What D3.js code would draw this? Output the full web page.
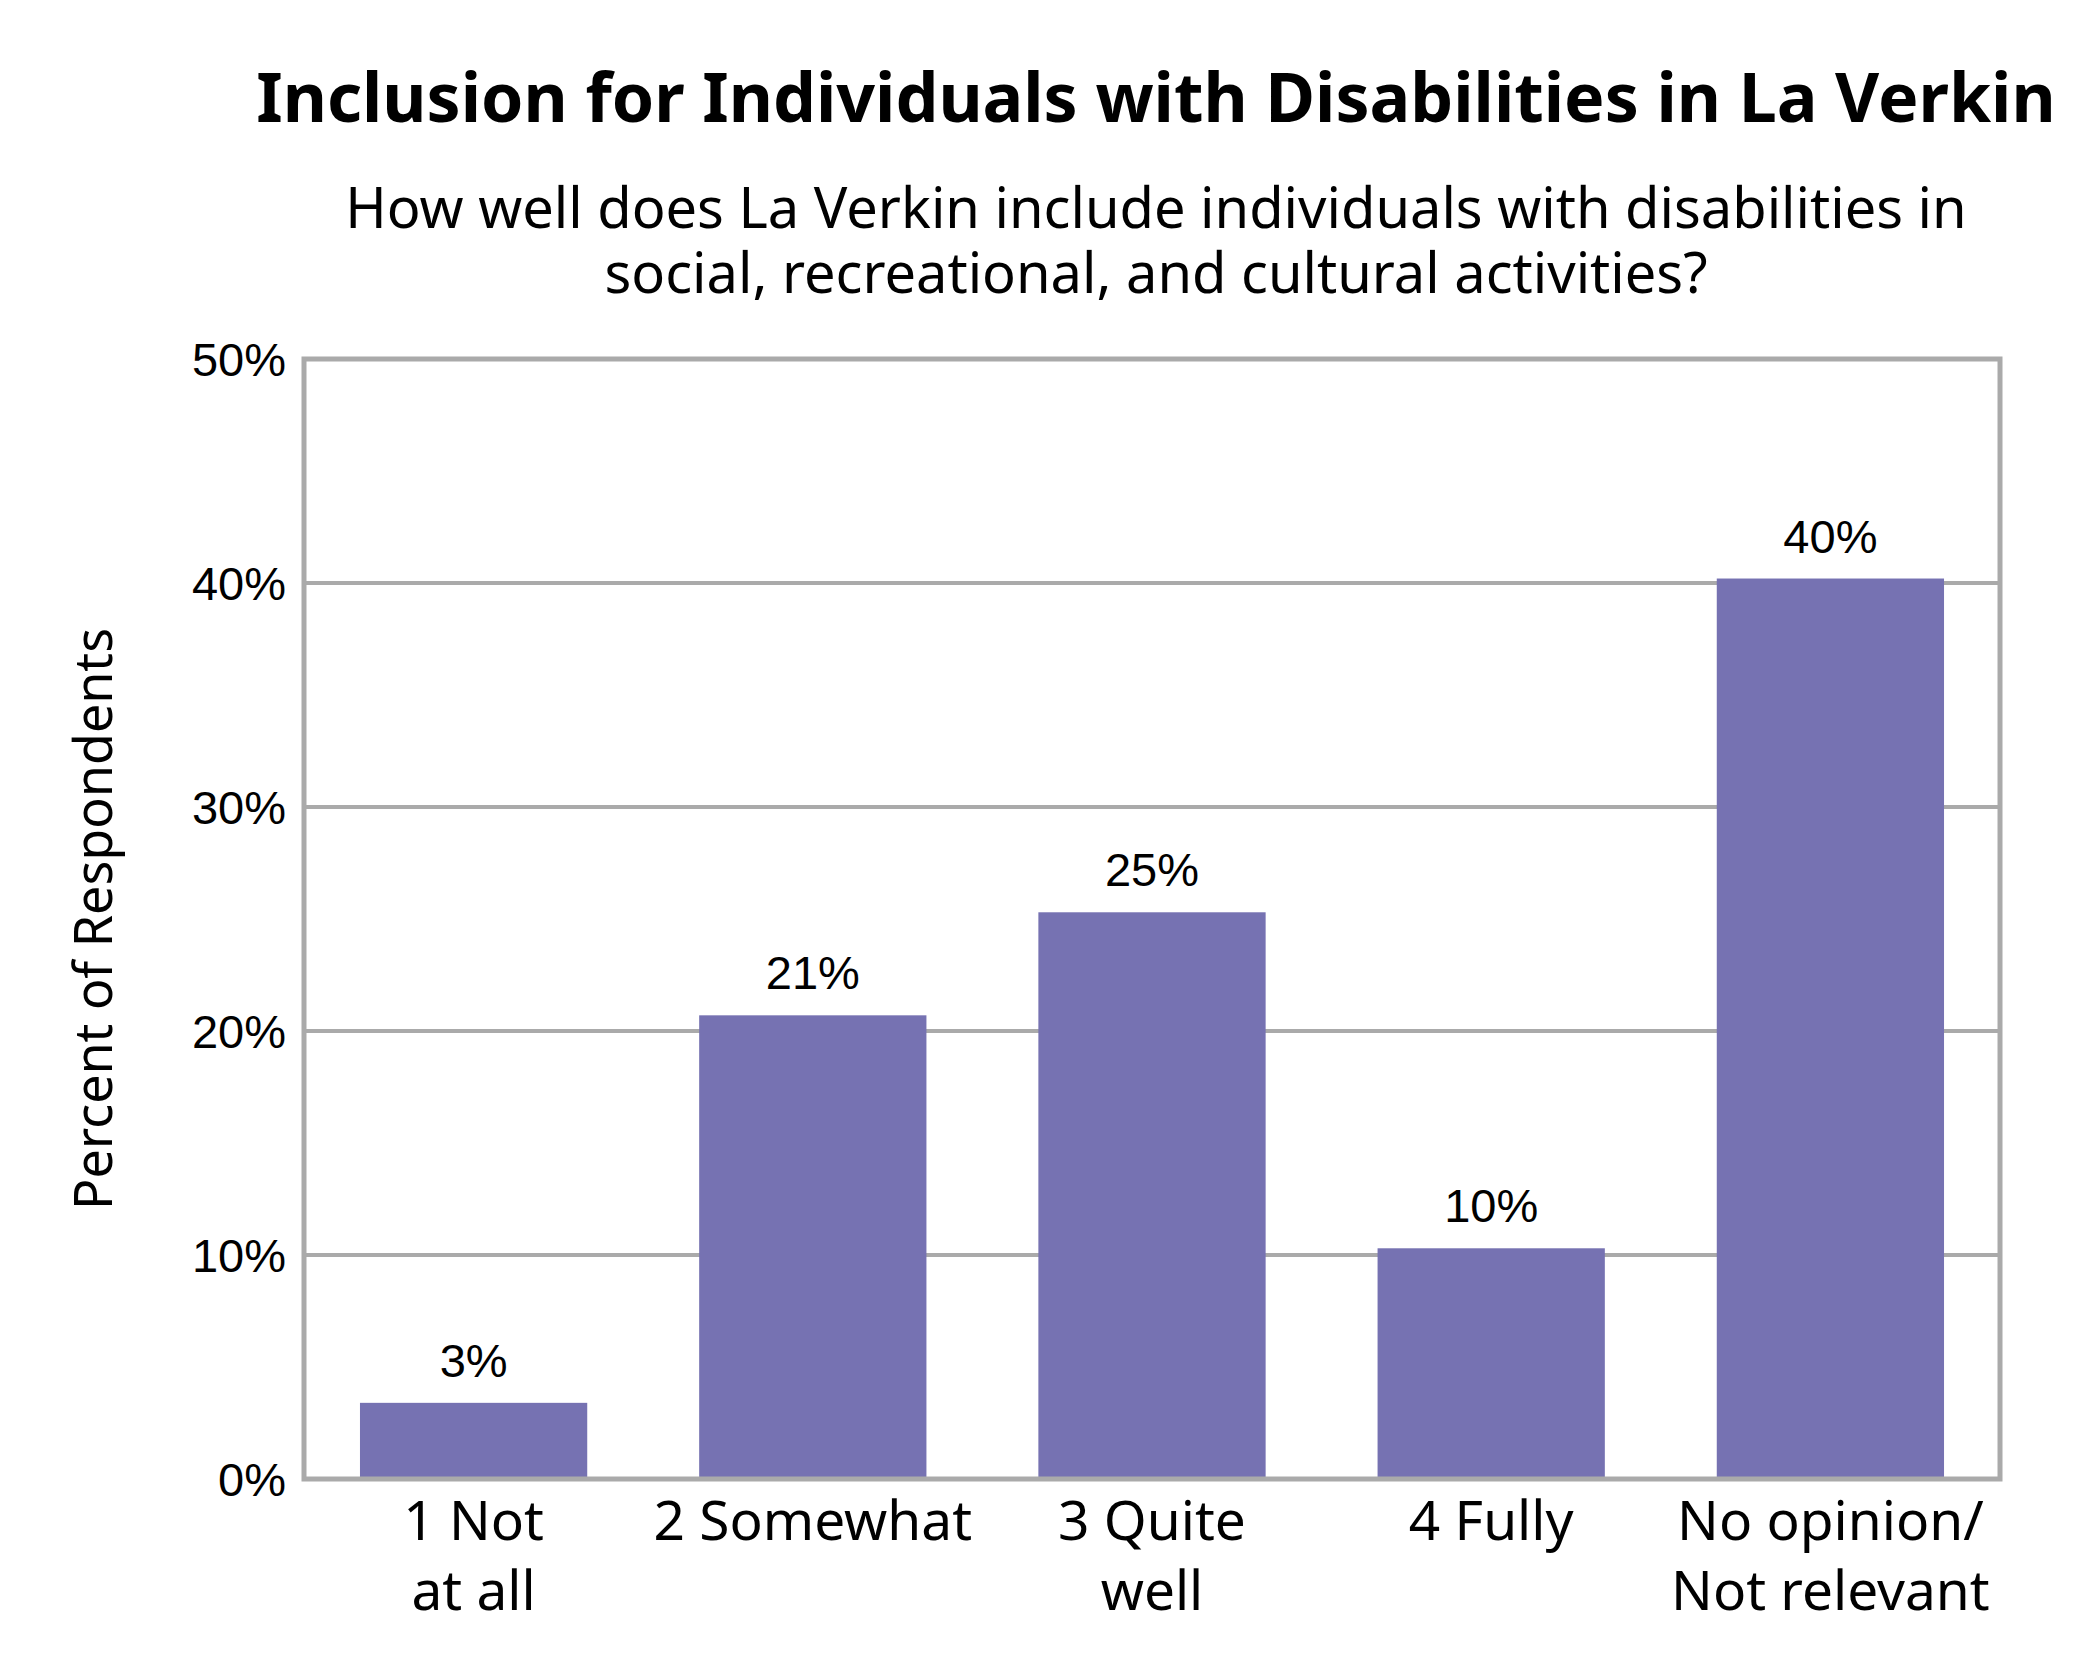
<!DOCTYPE html>
<html><head><meta charset="utf-8">
<script src="https://cdn.jsdelivr.net/npm/d3@7"></script>
<style>body{margin:0;background:#fff}</style>
</head><body>
<svg id="chart" width="2100" height="1680"></svg>
<script>
// chart data
var categories = ["1 Not|at all", "2 Somewhat", "3 Quite|well", "4 Fully", "No opinion/|Not relevant"];
var values = [3.4, 20.7, 25.3, 10.3, 40.2];
var valueLabels = ["3%", "21%", "25%", "10%", "40%"];
var yTicks = [0, 10, 20, 30, 40, 50];

var svg = d3.select("#chart");
var plotLeft = 304, plotRight = 2000, plotTop = 359, plotBottom = 1479;

var x = d3.scaleBand().domain(categories).range([plotLeft, plotRight]).paddingInner(0.33).paddingOuter(0.165);
var y = d3.scaleLinear().domain([0, 50]).range([plotBottom, plotTop]);

// gridlines
svg.selectAll(".grid").data(yTicks).enter().append("line")
  .attr("x1", plotLeft).attr("x2", plotRight)
  .attr("y1", d => y(d)).attr("y2", d => y(d))
  .attr("stroke", "#aaa").attr("stroke-width", 4);

// bars
svg.selectAll(".bar").data(values).enter().append("rect")
  .attr("x", (d, i) => x(categories[i]))
  .attr("width", x.bandwidth())
  .attr("y", d => y(d))
  .attr("height", d => plotBottom - y(d))
  .attr("fill", "#7672b2");

// frame
svg.append("rect").attr("x", plotLeft).attr("y", plotTop)
  .attr("width", plotRight - plotLeft).attr("height", plotBottom - plotTop)
  .attr("fill", "none").attr("stroke", "#aaa").attr("stroke-width", 5);

// value labels
svg.selectAll(".vl").data(values).enter().append("text")
  .attr("x", (d, i) => x(categories[i]) + x.bandwidth() / 2)
  .attr("y", d => y(d) - 26)
  .attr("text-anchor", "middle")
  .style("font-family", "Liberation Sans, Arial").style("font-size", "47px")
  .text((d, i) => valueLabels[i]);

// y tick labels
svg.selectAll(".yt").data(yTicks).enter().append("text")
  .attr("x", 286).attr("y", d => y(d) + 17)
  .attr("text-anchor", "end")
  .style("font-family", "Liberation Sans, Arial").style("font-size", "47px")
  .text(d => d + "%");

// x labels
categories.forEach(function (c, i) {
  var t = svg.append("text")
    .attr("text-anchor", "middle")
    .style("font-family", "Noto Sans, sans-serif").style("font-size", "55px");
  c.split("|").forEach(function (line, j) {
    t.append("tspan").attr("x", x(c) + x.bandwidth() / 2).attr("y", 1540 + j * 70).text(line);
  });
});

// axis title
svg.append("text")
  .attr("transform", "translate(112," + ((plotTop + plotBottom) / 2) + ") rotate(-90)")
  .attr("text-anchor", "middle")
  .style("font-family", "Noto Sans, sans-serif").style("font-size", "52px")
  .text("Percent of Respondents");

// titles
svg.append("text").attr("x", 1156).attr("y", 122).attr("text-anchor", "middle")
  .style("font-family", "Noto Sans, sans-serif").style("font-size", "68px").style("font-weight", "bold")
  .text("Inclusion for Individuals with Disabilities in La Verkin");
svg.append("text").attr("x", 1156).attr("y", 228).attr("text-anchor", "middle")
  .style("font-family", "Noto Sans, sans-serif").style("font-size", "56px")
  .text("How well does La Verkin include individuals with disabilities in");
svg.append("text").attr("x", 1156).attr("y", 293).attr("text-anchor", "middle")
  .style("font-family", "Noto Sans, sans-serif").style("font-size", "56px")
  .text("social, recreational, and cultural activities?");
</script>
</body></html>
